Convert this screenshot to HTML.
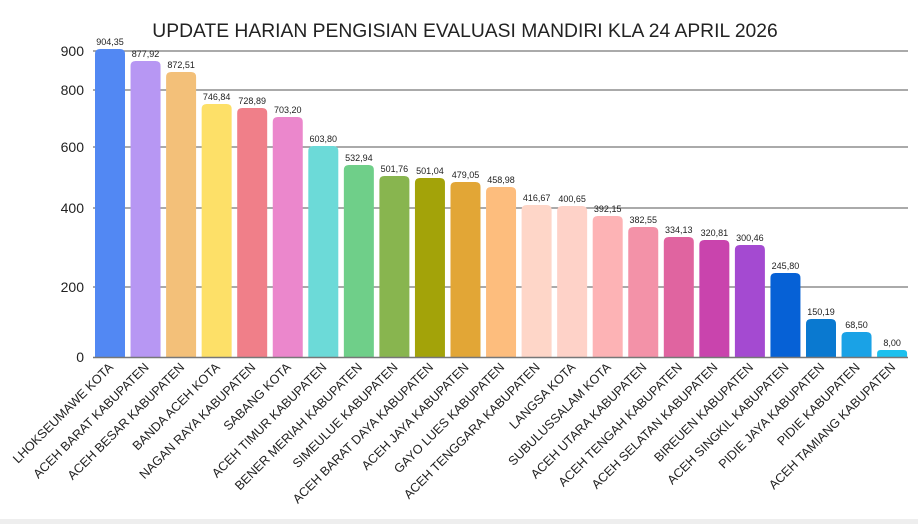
<!DOCTYPE html>
<html><head><meta charset="utf-8"><style>
html,body{margin:0;padding:0;background:#fff;}
svg{display:block;}
</style></head><body>
<svg width="918" height="524" viewBox="0 0 918 524" xmlns="http://www.w3.org/2000/svg" font-family="Liberation Sans, sans-serif">
<rect width="918" height="524" fill="#fff"/>
<rect x="0" y="519" width="918" height="5" fill="#eeeeee"/>
<text x="465" y="37" text-anchor="middle" font-size="19.3" fill="#222">UPDATE HARIAN PENGISIAN EVALUASI MANDIRI KLA 24 APRIL 2026</text>
<g stroke="#777" stroke-width="1.3">
<line x1="93" y1="51" x2="908" y2="51"/>
<line x1="93" y1="90" x2="908" y2="90"/>
<line x1="93" y1="147" x2="908" y2="147"/>
<line x1="93" y1="208" x2="908" y2="208"/>
<line x1="93" y1="287" x2="908" y2="287"/>
</g>
<g font-size="14" fill="#222" text-anchor="end">
<text x="84" y="56">900</text><text x="84" y="95">800</text><text x="84" y="152">600</text>
<text x="84" y="213">400</text><text x="84" y="292">200</text><text x="84" y="362">0</text>
</g>
<g id="bars"></g>
<line x1="93" y1="357.5" x2="908" y2="357.5" stroke="#777" stroke-width="1.5"/>
<g id="vals" font-size="9" fill="#222" text-anchor="middle"></g>
<g id="labs" font-size="12.6" fill="#222" text-anchor="end"></g>
<script>
var d=[["LHOKSEUMAWE KOTA","904,35",49,"#5288f3"],["ACEH BARAT KABUPATEN","877,92",61,"#b797f3"],["ACEH BESAR KABUPATEN","872,51",72,"#f3c079"],["BANDA ACEH KOTA","746,84",104,"#fde068"],["NAGAN RAYA KABUPATEN","728,89",108,"#f07f89"],["SABANG KOTA","703,20",117,"#eb87cc"],["ACEH TIMUR KABUPATEN","603,80",146,"#6cdad8"],["BENER MERIAH KABUPATEN","532,94",165,"#6fcf89"],["SIMEULUE KABUPATEN","501,76",176,"#88b54f"],["ACEH BARAT DAYA KABUPATEN","501,04",178,"#a3a309"],["ACEH JAYA KABUPATEN","479,05",182,"#e2a636"],["GAYO LUES KABUPATEN","458,98",187,"#fdbd7d"],["ACEH TENGGARA KABUPATEN","416,67",205,"#fed6c8"],["LANGSA KOTA","400,65",206,"#fed2c8"],["SUBULUSSALAM KOTA","392,15",216,"#fdb3b5"],["ACEH UTARA KABUPATEN","382,55",227,"#f392a8"],["ACEH TENGAH KABUPATEN","334,13",237,"#e064a0"],["ACEH SELATAN KABUPATEN","320,81",240,"#c944ad"],["BIREUEN KABUPATEN","300,46",245,"#a44ad1"],["ACEH SINGKIL KABUPATEN","245,80",273,"#0661d6"],["PIDIE JAYA KABUPATEN","150,19",319,"#0a79d0"],["PIDIE KABUPATEN","68,50",332,"#1aa2e6"],["ACEH TAMIANG KABUPATEN","8,00",350,"#1cc0ee"]];
var ns="http://www.w3.org/2000/svg",b=document.getElementById("bars"),v=document.getElementById("vals"),l=document.getElementById("labs");
d.forEach(function(e,i){var x=95+i*35.55,c=x+15;
var p=document.createElementNS(ns,"path");var t=e[2],r=Math.min(5,(357-t)/2);
p.setAttribute("d","M"+x+" 357V"+(t+r)+"Q"+x+" "+t+" "+(x+r)+" "+t+"H"+(x+30-r)+"Q"+(x+30)+" "+t+" "+(x+30)+" "+(t+r)+"V357Z");
p.setAttribute("fill",e[3]);b.appendChild(p);
var s=document.createElementNS(ns,"text");s.setAttribute("x",c);s.setAttribute("y",t-4);s.textContent=e[1];v.appendChild(s);
var q=document.createElementNS(ns,"text");q.setAttribute("transform","translate("+(c+4)+",368) rotate(-45)");q.textContent=e[0];l.appendChild(q);});
</script>
</svg>
</body></html>
